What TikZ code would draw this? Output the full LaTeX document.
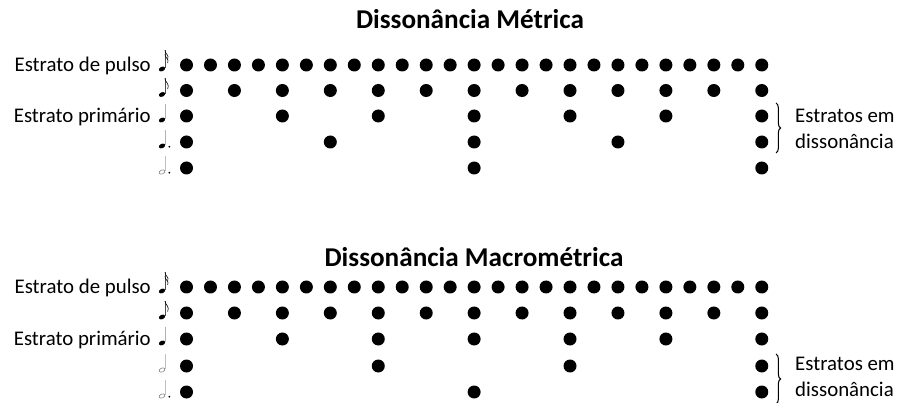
\documentclass[tikz,border=0pt]{standalone}
\usepackage{fontspec}
\setmainfont{Carlito}
\usetikzlibrary{positioning,decorations.pathreplacing}

% small note symbols drawn by hand
\tikzset{
    stm/.style={line width=0.5pt},
    sixteenth/.pic={
        \fill[rotate=25] (0,0) ellipse (0.1cm and 0.066cm);
        \draw[stm, black!70] (0.085cm,0.02cm) -- (0.085cm,0.56cm);
        \draw[stm] (0.085cm,0.56cm) .. controls (0.1cm,0.44cm) and (0.22cm,0.42cm) .. (0.17cm,0.3cm);
        \draw[stm] (0.085cm,0.44cm) .. controls (0.1cm,0.32cm) and (0.22cm,0.3cm) .. (0.17cm,0.18cm);
    },
    eighth/.pic={
        \fill[rotate=25] (0,0) ellipse (0.1cm and 0.066cm);
        \draw[stm, black!70] (0.085cm,0.02cm) -- (0.085cm,0.48cm);
        \draw[stm] (0.085cm,0.48cm) .. controls (0.1cm,0.36cm) and (0.24cm,0.32cm) .. (0.17cm,0.16cm);
    },
    quarter/.pic={
        \fill[rotate=25] (0,0) ellipse (0.1cm and 0.066cm);
        \draw[stm, black!30] (0.085cm,0.02cm) -- (0.085cm,0.48cm);
    },
    dquarter/.pic={
        \fill[rotate=25] (0,0) ellipse (0.1cm and 0.066cm);
        \draw[stm, black!30] (0.085cm,0.02cm) -- (0.085cm,0.48cm);
        \fill (0.22cm,-0.02cm) circle (0.03cm);
    },
    half/.pic={
        \draw[line width=0.4pt, black!60, rotate=25] (0,0) ellipse (0.09cm and 0.058cm);
        \draw[stm, black!25] (0.085cm,0.02cm) -- (0.085cm,0.48cm);
    },
    dhalf/.pic={
        \draw[line width=0.4pt, black!60, rotate=25] (0,0) ellipse (0.09cm and 0.058cm);
        \draw[stm, black!25] (0.085cm,0.02cm) -- (0.085cm,0.48cm);
        \fill (0.22cm,-0.02cm) circle (0.03cm);
    }
}

\begin{document}
\begin{tikzpicture}[x=0.03cm, y=-0.03cm,
    beat/.style={circle, fill=black, inner sep=0pt, minimum size=0.39cm},
    lbl/.style={font=\fontsize{17.8}{22.2}\selectfont, inner sep=0pt, align=left},
    ttl/.style={font=\fontsize{23.2}{28}\selectfont\bfseries, inner sep=0pt},
    brk/.style={decorate, decoration={brace, amplitude=4pt}, line width=0.9pt}
]
    \useasboundingbox (0,0) rectangle (900,403);

    % Dissonancia Metrica
    \node[ttl] (titleA) at (470,19) {Dissonância Métrica};
    \foreach \r/\s/\y in {1/1/65, 2/2/90.5, 3/4/116, 4/6/142, 5/12/168}
        \foreach \k in {0,\s,...,24}
            \node[beat] (a\r-\k) at ({186.5+23.97*\k},\y) {};
    \node[lbl, anchor=base east] (pulsoA) at (151,71.5) {Estrato de pulso};
    \node[lbl, anchor=base east] (primA) at (151,122.5) {Estrato primário};
    \pic (na1) at (162,69) {sixteenth};
    \pic (na2) at (162,94.5) {eighth};
    \pic (na3) at (162,120) {quarter};
    \pic (na4) at (162,146) {dquarter};
    \pic (na5) at (162,172) {dhalf};
    \coordinate (bA1) at (776,103);
    \coordinate (bA2) at (776,153);
    \draw[brk] (bA1) -- (bA2);
    \node[lbl, anchor=west] (dissA) at (795,129) {Estratos em\\dissonância};

    % Dissonancia Macrometrica
    \node[ttl] (titleB) at (474,257) {Dissonância Macrométrica};
    \foreach \r/\s/\y in {1/1/287, 2/2/313, 3/4/339, 4/8/366, 5/12/392}
        \foreach \k in {0,\s,...,24}
            \node[beat] (b\r-\k) at ({186.5+23.97*\k},\y) {};
    \node[lbl, anchor=base east] (pulsoB) at (151,293.5) {Estrato de pulso};
    \node[lbl, anchor=base east] (primB) at (151,345.5) {Estrato primário};
    \pic (nb1) at (162,291) {sixteenth};
    \pic (nb2) at (162,317) {eighth};
    \pic (nb3) at (162,343) {quarter};
    \pic (nb4) at (162,370) {half};
    \pic (nb5) at (162,396) {dhalf};
    \coordinate (bB1) at (776,354);
    \coordinate (bB2) at (776,404);
    \draw[brk] (bB1) -- (bB2);
    \node[lbl, anchor=west] (dissB) at (795,377) {Estratos em\\dissonância};
\end{tikzpicture}
\end{document}
